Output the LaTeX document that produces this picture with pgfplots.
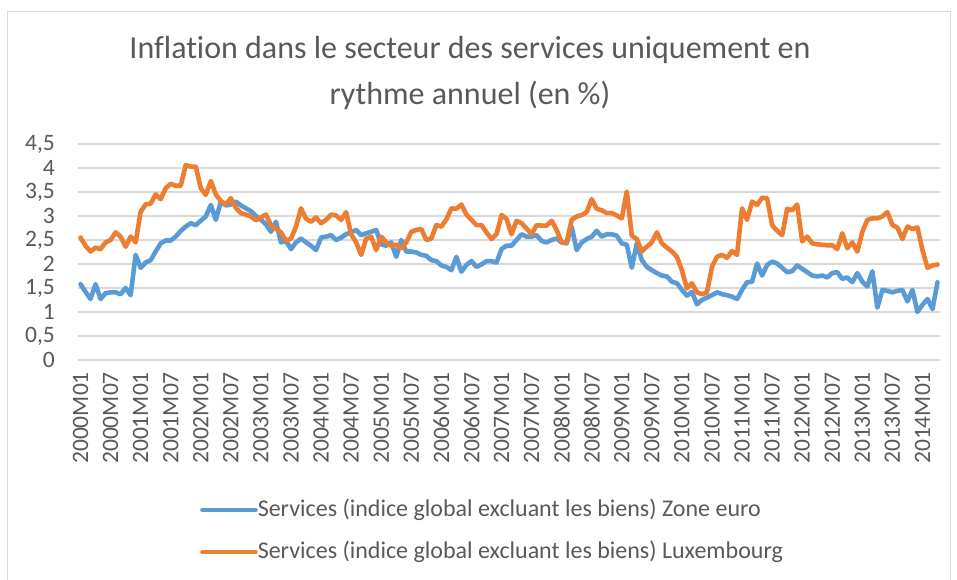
\documentclass[border=0pt]{standalone}
\usepackage{pgfplots}
\usepackage{pgfplotstable}
\pgfplotsset{compat=1.18}
\usepackage{fontspec}
\setmainfont{Carlito}[Ligatures={NoCommon}]

\definecolor{ezblue}{HTML}{5B9BD5}
\definecolor{luorange}{HTML}{ED7D31}
\definecolor{txtgrey}{HTML}{595959}
\definecolor{gridgrey}{HTML}{D9D9D9}

% i = mois depuis 2000M01, ez = zone euro, lu = Luxembourg
\pgfplotstableread{
i ez lu
0 1.58 2.55
1 1.42 2.38
2 1.27 2.26
3 1.58 2.34
4 1.27 2.31
5 1.39 2.45
6 1.41 2.50
7 1.41 2.66
8 1.37 2.57
9 1.50 2.36
10 1.35 2.57
11 2.19 2.45
12 1.92 3.09
13 2.03 3.24
14 2.08 3.26
15 2.26 3.45
16 2.43 3.35
17 2.49 3.58
18 2.49 3.67
19 2.57 3.63
20 2.69 3.63
21 2.78 4.06
22 2.85 4.03
23 2.81 4.03
24 2.90 3.58
25 2.99 3.44
26 3.23 3.73
27 2.92 3.45
28 3.30 3.31
29 3.22 3.24
30 3.24 3.37
31 3.30 3.17
32 3.22 3.06
33 3.16 3.03
34 3.10 2.99
35 3.00 2.91
36 2.92 2.97
37 2.83 3.03
38 2.67 2.81
39 2.88 2.73
40 2.45 2.66
41 2.48 2.48
42 2.31 2.53
43 2.45 2.78
44 2.53 3.16
45 2.45 2.94
46 2.38 2.88
47 2.29 2.97
48 2.55 2.85
49 2.57 2.92
50 2.60 3.03
51 2.50 3.01
52 2.55 2.92
53 2.62 3.08
54 2.66 2.62
55 2.71 2.45
56 2.60 2.19
57 2.64 2.53
58 2.67 2.57
59 2.71 2.29
60 2.41 2.57
61 2.38 2.45
62 2.45 2.38
63 2.15 2.40
64 2.50 2.33
65 2.26 2.45
66 2.26 2.67
67 2.24 2.71
68 2.19 2.73
69 2.17 2.50
70 2.08 2.53
71 2.06 2.81
72 1.97 2.78
73 1.94 2.93
74 1.87 3.16
75 2.15 3.15
76 1.84 3.24
77 1.98 3.03
78 2.06 2.92
79 1.94 2.81
80 1.99 2.81
81 2.06 2.66
82 2.06 2.52
83 2.03 2.62
84 2.31 3.02
85 2.38 2.94
86 2.38 2.62
87 2.50 2.90
88 2.62 2.85
89 2.57 2.74
90 2.57 2.62
91 2.60 2.81
92 2.48 2.80
93 2.45 2.80
94 2.50 2.90
95 2.53 2.71
96 2.45 2.45
97 2.43 2.45
98 2.78 2.92
99 2.29 2.99
100 2.45 3.02
101 2.52 3.08
102 2.57 3.35
103 2.69 3.15
104 2.57 3.12
105 2.62 3.06
106 2.62 3.06
107 2.59 3.01
108 2.43 2.95
109 2.40 3.51
110 1.92 2.59
111 2.43 2.52
112 2.08 2.26
113 1.94 2.36
114 1.87 2.45
115 1.81 2.66
116 1.76 2.43
117 1.74 2.34
118 1.63 2.26
119 1.60 2.15
120 1.46 1.87
121 1.34 1.49
122 1.42 1.60
123 1.16 1.41
124 1.25 1.37
125 1.30 1.41
126 1.35 1.94
127 1.41 2.15
128 1.37 2.19
129 1.35 2.13
130 1.32 2.27
131 1.27 2.19
132 1.46 3.16
133 1.62 2.92
134 1.63 3.30
135 2.01 3.23
136 1.76 3.38
137 1.98 3.37
138 2.05 2.81
139 2.01 2.69
140 1.92 2.60
141 1.83 3.15
142 1.85 3.12
143 1.97 3.24
144 1.90 2.47
145 1.83 2.57
146 1.76 2.43
147 1.74 2.41
148 1.76 2.40
149 1.72 2.39
150 1.81 2.39
151 1.83 2.31
152 1.69 2.64
153 1.72 2.33
154 1.62 2.45
155 1.81 2.26
156 1.63 2.67
157 1.53 2.92
158 1.85 2.95
159 1.09 2.95
160 1.46 2.99
161 1.44 3.08
162 1.41 2.81
163 1.44 2.76
164 1.46 2.52
165 1.22 2.78
166 1.46 2.73
167 1.00 2.76
168 1.15 2.29
169 1.27 1.92
170 1.06 1.97
171 1.62 1.99
}\inflation

\begin{document}
\begin{tikzpicture}[x=1bp,y=1bp]
\useasboundingbox (0,0) rectangle (957,580);
\draw[gridgrey, line width=1bp] (7,0) -- (7,568) -- (950,568) -- (950,0);
\node[txtgrey, font=\fontsize{32bp}{36bp}\selectfont] at (470,530) {Inflation dans le secteur des services uniquement en};
\node[txtgrey, font=\fontsize{32bp}{36bp}\selectfont] at (470,485) {rythme annuel (en \%)};
\begin{axis}[
    at={(78bp,220bp)}, anchor=south west,
    width=862bp, height=216bp, scale only axis,
    xmin=-0.5, xmax=171.5, ymin=0, ymax=4.5,
    xtick={0,6,...,168},
    xticklabels={2000M01,2000M07,2001M01,2001M07,2002M01,2002M07,2003M01,2003M07,2004M01,2004M07,2005M01,2005M07,2006M01,2006M07,2007M01,2007M07,2008M01,2008M07,2009M01,2009M07,2010M01,2010M07,2011M01,2011M07,2012M01,2012M07,2013M01,2013M07,2014M01},
    ytick={0,0.5,...,4.5},
    yticklabel style={/pgf/number format/.cd, use comma, fixed},
    axis line style={draw=none},
    major tick length=0pt,
    ymajorgrids, grid style={gridgrey, line width=1.5bp},
    tick label style={txtgrey, font=\fontsize{23.5bp}{26bp}\selectfont, inner sep=0pt},
    xticklabel style={rotate=90, anchor=east},
    xticklabel shift=12bp, yticklabel shift=23bp,
    /pgf/number format/assume math mode=true,
    legend style={at={(axis description cs:0.1415,-0.6435)}, anchor=north west,
        draw=none, fill=none, inner sep=0pt, row sep=20bp,
        font=\fontsize{24bp}{28bp}\selectfont, text=txtgrey,
        nodes={inner sep=0pt, text height=17bp, text depth=5bp}},
    legend cell align=left,
    legend image code/.code={\draw[#1] (0bp,0bp) -- (53bp,0bp);},
    /tikz/every even column/.append style={column sep=5bp},
]
\addplot[ezblue, line width=4.6bp, line join=round, line cap=round] table[x=i, y=ez] {\inflation};
\addlegendentry{Services (indice global excluant les biens) Zone euro}
\addplot[luorange, line width=4.6bp, line join=round, line cap=round] table[x=i, y=lu] {\inflation};
\addlegendentry{Services (indice global excluant les biens) Luxembourg}
\end{axis}
\end{tikzpicture}
\end{document}
